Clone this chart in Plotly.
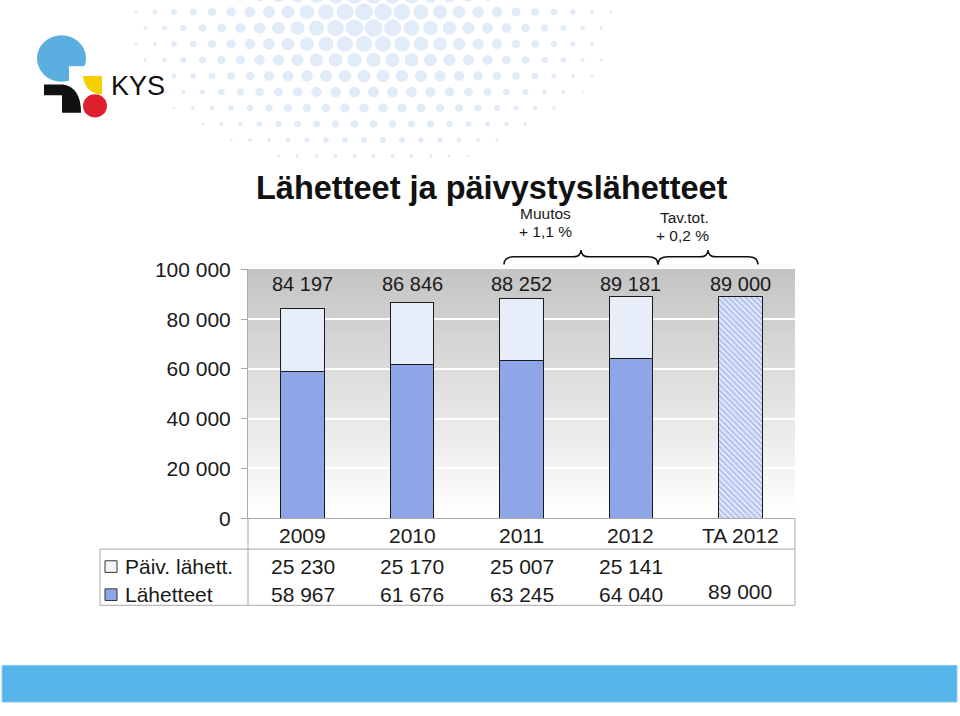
import math
import plotly.graph_objects as go

W, H = 960, 716


def px(x):
    return x / W


def py(y):
    return 1 - y / H


# ---------------- data ----------------
categories = ["2009", "2010", "2011", "2012", "TA 2012"]
lahetteet = [58967, 61676, 63245, 64040, 89000]
paiv_lahett = [25230, 25170, 25007, 25141, None]
y_ticks = [0, 20000, 40000, 60000, 80000, 100000]
series_names = ["Päiv. lähett.", "Lähetteet"]
change_1 = ["Muutos", "+ 1,1 %"]
change_2 = ["Tav.tot.", "+ 0,2 %"]
title_text = "Lähetteet ja päivystyslähetteet"


def fmt(v):
    return f"{v:,}".replace(",", " ")


totals = [l + (p or 0) for l, p in zip(lahetteet, paiv_lahett)]

BLUE = "#8ea5e8"
HATCH = "#7a93e2"
LIGHT = "#e8eef9"
EDGE = "#1a1a1a"
GRAYLINE = "#a8a8a8"
FONT = "Liberation Sans, Arial, sans-serif"

fig = go.Figure()
fig.add_bar(
    x=categories, y=lahetteet, name=series_names[1],
    marker=dict(color=BLUE, line=dict(color=EDGE, width=1),
                pattern=dict(shape=["", "", "", "", "\\"], fgcolor=HATCH,
                             bgcolor="#eef2fc", size=4, solidity=0.62)),
    hoverinfo="skip",
)
fig.add_bar(
    x=categories, y=paiv_lahett, name=series_names[0],
    marker=dict(color=LIGHT, line=dict(color=EDGE, width=1)),
    hoverinfo="skip",
)

shapes = []
annotations = []

# ---- decorative dot field (top) ----
cx, cy = 370, 10
sp = 19
for j in range(-1, 12):
    for i in range(-20, 40):
        x = 60 + i * sp + (j % 2) * sp / 2
        y = j * sp * 0.87
        d = math.hypot(x - cx, (y - cy) * 1.6)
        r = 9.5 * (1 - d / 285)
        if r > 1.4:
            shapes.append(dict(type="circle", xref="paper", yref="paper",
                               x0=px(x - r), x1=px(x + r), y0=py(y + r), y1=py(y - r),
                               fillcolor="#e1ecf8", line=dict(width=0), layer="below"))

# ---- logo ----
shapes.append(dict(type="circle", xref="paper", yref="paper", x0=px(37), x1=px(86),
                   y0=py(72), y1=py(24), fillcolor="#5aaee0", line=dict(width=0), layer="below"))
shapes.append(dict(type="rect", xref="paper", yref="paper", x0=px(69), x1=px(90),
                   y0=py(76), y1=py(56), fillcolor="white", line=dict(width=0), layer="below"))
shapes.append(dict(type="path", xref="paper", yref="paper",
                   path=(f"M {px(44)},{py(75)} L {px(63)},{py(75)} "
                         f"Q {px(81)},{py(78)} {px(81)},{py(104)} L {px(62)},{py(104)} "
                         f"L {px(62)},{py(86)} L {px(44)},{py(86)} Z"),
                   fillcolor="#111111", line=dict(width=0), layer="below"))
shapes.append(dict(type="path", xref="paper", yref="paper",
                   path=(f"M {px(83)},{py(66)} L {px(102)},{py(66)} L {px(102)},{py(85)} "
                         f"Q {px(85)},{py(84)} {px(83)},{py(66)} Z"),
                   fillcolor="#f5d000", line=dict(width=0), layer="below"))
shapes.append(dict(type="circle", xref="paper", yref="paper", x0=px(83), x1=px(107),
                   y0=py(109), y1=py(85), fillcolor="#dd1f2e", line=dict(width=0), layer="below"))
annotations.append(dict(text="KYS", xref="paper", yref="paper", x=px(109), y=py(76),
                        xanchor="left", yanchor="middle", showarrow=False,
                        font=dict(family=FONT, size=27, color="#111111")))

# ---- bottom band ----
shapes.append(dict(type="rect", xref="paper", yref="paper", x0=px(2), x1=px(957),
                   y0=py(713), y1=py(675), fillcolor="#55b5e8",
                   line=dict(color="#8fd0ee", width=1), layer="below"))

# ---- plot background gradient ----
N = 60
for k in range(N):
    t = (k + 0.5) / N  # 0 bottom -> 1 top
    g = int(round(255 - (255 - 196) * t))
    shapes.append(dict(type="rect", xref="x domain", yref="y domain",
                       x0=0, x1=1, y0=k / N, y1=(k + 1) / N + 0.002,
                       fillcolor=f"rgb({g},{g},{g})", line=dict(width=0), layer="below"))

# ---- totals above bars (x = category index on the category axis) ----
for i, t in enumerate(totals):
    annotations.append(dict(text=fmt(t), x=i, y=94100, xref="x", yref="y",
                            showarrow=False, yanchor="middle",
                            font=dict(family=FONT, size=20, color="#1a1a1a")))

# ---- data table ----
for i, c in enumerate(categories):
    annotations.append(dict(text=c, x=i, y=py(541), xref="x", yref="paper",
                            showarrow=False, yanchor="middle",
                            font=dict(family=FONT, size=21, color="#1a1a1a")))
for i, v in enumerate(paiv_lahett):
    if v is not None:
        annotations.append(dict(text=fmt(v), x=i, y=py(573), xref="x", yref="paper",
                                showarrow=False, yanchor="middle",
                                font=dict(family=FONT, size=21, color="#1a1a1a")))
for i, v in enumerate(lahetteet):
    yy = 602 if paiv_lahett[i] is not None else 599
    annotations.append(dict(text=fmt(v), x=i, y=py(yy), xref="x", yref="paper",
                            showarrow=False, yanchor="middle",
                            font=dict(family=FONT, size=21, color="#1a1a1a")))

# legend keys in table
for name, col, yc in [(series_names[0], "#f2f4fa", 573), (series_names[1], BLUE, 602)]:
    shapes.append(dict(type="rect", xref="paper", yref="paper", x0=px(105), x1=px(117),
                       y0=py(yc + 6), y1=py(yc - 6), fillcolor=col,
                       line=dict(color="#333333", width=1)))
    annotations.append(dict(text=name, x=px(123), y=py(yc), xref="paper", yref="paper",
                            xanchor="left", yanchor="middle", showarrow=False,
                            font=dict(family=FONT, size=21, color="#1a1a1a")))


# table lines
def hline(x0, x1, y):
    shapes.append(dict(type="line", xref="paper", yref="paper", x0=px(x0), x1=px(x1),
                       y0=py(y), y1=py(y), line=dict(color=GRAYLINE, width=1)))


def vline(x, y0, y1):
    shapes.append(dict(type="line", xref="paper", yref="paper", x0=px(x), x1=px(x),
                       y0=py(y0), y1=py(y1), line=dict(color=GRAYLINE, width=1)))


hline(100, 795, 555)
hline(100, 795, 613)
vline(100, 555, 613)
vline(248, 523, 613)
vline(795, 523, 613)


# ---- braces ----
def brace(x0, xm, x1, yb=261, ymid=253, ytip=246):
    return (f"M {px(x0)},{py(yb)} Q {px(x0)},{py(ymid)} {px(x0 + 10)},{py(ymid)} "
            f"L {px(xm - 8)},{py(ymid)} Q {px(xm)},{py(ymid)} {px(xm)},{py(ytip)} "
            f"Q {px(xm)},{py(ymid)} {px(xm + 8)},{py(ymid)} "
            f"L {px(x1 - 10)},{py(ymid)} Q {px(x1)},{py(ymid)} {px(x1)},{py(yb)}")


shapes.append(dict(type="path", xref="paper", yref="paper", path=brace(504, 581, 658),
                   line=dict(color="#111111", width=1.5)))
shapes.append(dict(type="path", xref="paper", yref="paper", path=brace(658, 708, 758),
                   line=dict(color="#111111", width=1.5)))

for (l1, l2), xc, y1, y2 in [(change_1, 545, 208, 227), (change_2, 711, 212, 231)]:
    annotations.append(dict(text=l1, x=px(xc), y=py(y1), xref="paper", yref="paper",
                            showarrow=False, yanchor="middle",
                            font=dict(family=FONT, size=15.5, color="#1a1a1a")))
    annotations.append(dict(text=l2, x=px(xc), y=py(y2), xref="paper", yref="paper",
                            showarrow=False, yanchor="middle",
                            font=dict(family=FONT, size=15.5, color="#1a1a1a")))

# ---- title ----
annotations.append(dict(text=f"<b>{title_text}</b>", x=px(492), y=py(182),
                        xref="paper", yref="paper", showarrow=False, yanchor="middle",
                        font=dict(family=FONT, size=32.5, color="#111111")))

fig.update_layout(
    width=W, height=H, autosize=False,
    margin=dict(l=0, r=0, t=0, b=0),
    paper_bgcolor="white", plot_bgcolor="rgba(0,0,0,0)",
    barmode="stack", bargap=0.6, showlegend=False,
    separators=", ",
    shapes=shapes, annotations=annotations,
    xaxis=dict(type="category", categoryorder="array", categoryarray=categories,
               range=[-0.5, len(categories) - 0.5],
               domain=[px(248), px(795)], showticklabels=False,
               showgrid=False, zeroline=False, showline=True, linecolor=GRAYLINE,
               linewidth=1, ticks="", fixedrange=True),
    yaxis=dict(domain=[py(523), py(266)], range=[0, 100000], tickvals=y_ticks,
               tickformat=",d", showgrid=True, gridcolor="white", gridwidth=2,
               zeroline=False, showline=True, linecolor=GRAYLINE, linewidth=1,
               ticks="outside", ticklen=6, tickcolor=GRAYLINE,
               ticklabelstandoff=6,
               tickfont=dict(family=FONT, size=21, color="#1a1a1a"), fixedrange=True),
)

fig.write_html("out.html")
